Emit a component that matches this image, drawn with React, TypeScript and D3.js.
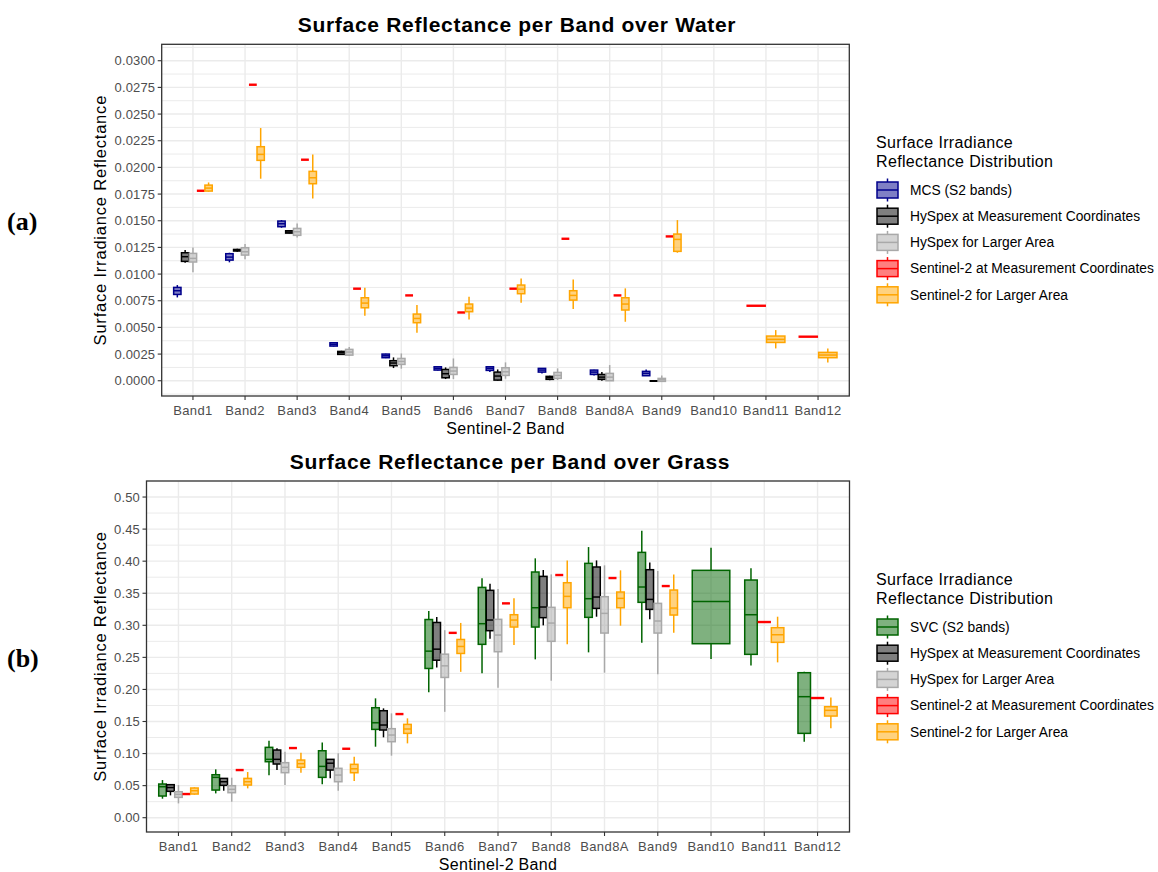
import React from "react";
import * as d3 from "d3";

// Sentinel-2 band order on the x axis
const BANDS = [
  "Band1", "Band2", "Band3", "Band4", "Band5", "Band6", "Band7",
  "Band8", "Band8A", "Band9", "Band10", "Band11", "Band12",
];

// Box statistics: [lower whisker, Q1, median, Q3, upper whisker]
type Stat = [number, number, number, number, number];
type Cell = Stat | number | null;

// ---------- Water ----------
const waterMcs: Cell[] = [
  [0.00781, 0.00809, 0.00844, 0.00875, 0.00897],
  [0.0111, 0.01131, 0.01159, 0.01191, 0.012],
  [0.01434, 0.01444, 0.01472, 0.01497, 0.01506],
  [0.0032, 0.00325, 0.00341, 0.00356, 0.0036],
  [0.00212, 0.00216, 0.00234, 0.0025, 0.00253],
  [0.00097, 0.001, 0.00116, 0.00131, 0.00133],
  [0.00081, 0.00097, 0.00116, 0.00131, 0.00133],
  [0.00069, 0.00081, 0.001, 0.00116, 0.00118],
  [0.0005, 0.00059, 0.00081, 0.001, 0.00102],
  [0.00047, 0.00047, 0.00069, 0.00088, 0.00106],
  null, null, null,
];
const waterHyMc: Cell[] = [
  [0.01106, 0.01119, 0.01163, 0.012, 0.01225],
  [0.0121, 0.01216, 0.01225, 0.01231, 0.01238],
  [0.01381, 0.01384, 0.01394, 0.01406, 0.0141],
  [0.00244, 0.00247, 0.00263, 0.00275, 0.00281],
  [0.00119, 0.00141, 0.00166, 0.00188, 0.00219],
  [0.00016, 0.00028, 0.00066, 0.00106, 0.00125],
  [0.0, 0.00006, 0.00044, 0.00081, 0.00106],
  [0.00005, 0.00013, 0.00028, 0.00041, 0.00047],
  [0.0, 0.00013, 0.00034, 0.00059, 0.00081],
  [-0.00005, -0.00004, -0.00002, 0.0, 0.0],
  null, null, null,
];
const waterHyLarge: Cell[] = [
  [0.01016, 0.01113, 0.01147, 0.01194, 0.0125],
  [0.01138, 0.01178, 0.01209, 0.01247, 0.01281],
  [0.01344, 0.01363, 0.01397, 0.01428, 0.01475],
  [0.00231, 0.0024, 0.00269, 0.00294, 0.00316],
  [0.00113, 0.00153, 0.00181, 0.00209, 0.00256],
  [0.00016, 0.00059, 0.00091, 0.00125, 0.00209],
  [0.00019, 0.0005, 0.00084, 0.00122, 0.00172],
  [0.00006, 0.00022, 0.0005, 0.00078, 0.00116],
  [-0.00003, 0.0, 0.00034, 0.00069, 0.00147],
  [-0.00006, -0.00006, 0.00009, 0.00022, 0.0005],
  null, null, null,
];
const waterS2Mc: Cell[] = [
  0.01781, 0.02775, 0.02072, 0.00863, 0.008, 0.0064, 0.00863,
  0.01331, 0.008, 0.01353, null, 0.00703, 0.00413,
];
const waterS2Large: Cell[] = [
  [0.01772, 0.01778, 0.01806, 0.01834, 0.01859],
  [0.01894, 0.02066, 0.02122, 0.02194, 0.02369],
  [0.01709, 0.01847, 0.01903, 0.01963, 0.02122],
  [0.00609, 0.00684, 0.00728, 0.00778, 0.00872],
  [0.0045, 0.00544, 0.00584, 0.00625, 0.00709],
  [0.00575, 0.00647, 0.00681, 0.00719, 0.00788],
  [0.00731, 0.00816, 0.00859, 0.00897, 0.00959],
  [0.00672, 0.00756, 0.008, 0.00844, 0.0095],
  [0.00553, 0.00663, 0.00719, 0.00778, 0.00866],
  [0.012, 0.01213, 0.01325, 0.01375, 0.01506],
  null,
  [0.00303, 0.00359, 0.00388, 0.00419, 0.00475],
  [0.00172, 0.00216, 0.00241, 0.00266, 0.00303],
];

// ---------- Grass ----------
const grassSvc: Cell[] = [
  [0.0296, 0.0338, 0.0483, 0.0525, 0.0587],
  [0.0379, 0.0431, 0.0629, 0.067, 0.0754],
  [0.066, 0.0873, 0.091, 0.1097, 0.12],
  [0.052, 0.0629, 0.08, 0.1044, 0.1174],
  [0.1107, 0.1377, 0.148, 0.1715, 0.1861],
  [0.1958, 0.2327, 0.2597, 0.309, 0.3224],
  [0.2251, 0.2703, 0.3025, 0.3591, 0.3732],
  [0.2469, 0.2973, 0.3274, 0.3831, 0.4044],
  [0.2578, 0.3124, 0.3415, 0.3966, 0.422],
  [0.2729, 0.3358, 0.3597, 0.4137, 0.4475],
  [0.2474, 0.2713, 0.3373, 0.3857, 0.421],
  [0.2375, 0.2547, 0.3165, 0.3706, 0.3888],
  [0.1185, 0.1315, 0.1887, 0.2261, 0.2277],
];
const grassHyMc: Cell[] = [
  [0.0348, 0.0411, 0.047, 0.0515, 0.0515],
  [0.0421, 0.0504, 0.0561, 0.0613, 0.0613],
  [0.0743, 0.0837, 0.091, 0.1055, 0.1081],
  [0.0614, 0.0743, 0.085, 0.091, 0.091],
  [0.1253, 0.1367, 0.1445, 0.1668, 0.1705],
  [0.2343, 0.2456, 0.2628, 0.3044, 0.3131],
  [0.2791, 0.2916, 0.3082, 0.3545, 0.3649],
  [0.2999, 0.3119, 0.3285, 0.3763, 0.3862],
  [0.3134, 0.3264, 0.3441, 0.3909, 0.4012],
  [0.3093, 0.3248, 0.3404, 0.3867, 0.3981],
  null, null, null,
];
const grassHyLarge: Cell[] = [
  [0.0223, 0.0317, 0.0364, 0.0405, 0.0509],
  [0.0249, 0.039, 0.0442, 0.0499, 0.0624],
  [0.0509, 0.0702, 0.0785, 0.0858, 0.1029],
  [0.042, 0.0561, 0.0665, 0.077, 0.1003],
  [0.0967, 0.1185, 0.1289, 0.1388, 0.1627],
  [0.1651, 0.2187, 0.2368, 0.255, 0.2924],
  [0.2027, 0.2588, 0.2848, 0.3093, 0.3565],
  [0.2136, 0.275, 0.3035, 0.328, 0.3794],
  [0.2261, 0.2879, 0.3186, 0.3446, 0.3935],
  [0.2235, 0.2879, 0.3067, 0.3342, 0.3846],
  null, null, null,
];
const grassS2Mc: Cell[] = [
  0.0369, 0.0743, 0.1086, 0.1075, 0.1616, 0.2882, 0.3342,
  0.3784, 0.3737, 0.3612, null, 0.3051, 0.1866,
];
const grassS2Large: Cell[] = [
  [0.0359, 0.0369, 0.0421, 0.0463, 0.0473],
  [0.0457, 0.0509, 0.0561, 0.0613, 0.0712],
  [0.0702, 0.0785, 0.0842, 0.0899, 0.1014],
  [0.0572, 0.0701, 0.0763, 0.0832, 0.095],
  [0.1159, 0.1315, 0.1383, 0.1455, 0.1549],
  [0.2274, 0.2561, 0.267, 0.2779, 0.3037],
  [0.2692, 0.2973, 0.3082, 0.3165, 0.342],
  [0.2703, 0.3274, 0.3451, 0.3664, 0.4012],
  [0.2994, 0.3274, 0.342, 0.3519, 0.3857],
  [0.2885, 0.316, 0.3269, 0.355, 0.3794],
  null,
  [0.2422, 0.2734, 0.2853, 0.2963, 0.3134],
  [0.1393, 0.1585, 0.1674, 0.1731, 0.1876],
];

const waterTicks = d3.range(0, 0.03 + 1e-9, 0.0025);
const grassTicks = d3.range(0, 0.5 + 1e-9, 0.05);

interface Series {
  name: string;
  color: string;
  values: Cell[];
}

const COLORS = {
  mcs: "#00008B",
  svc: "#006400",
  hyMc: "#000000",
  hyLarge: "#A9A9A9",
  s2Mc: "#FF0000",
  s2Large: "#FFA500",
};

const waterSeries: Series[] = [
  { name: "MCS (S2 bands)", color: COLORS.mcs, values: waterMcs },
  { name: "HySpex at Measurement Coordinates", color: COLORS.hyMc, values: waterHyMc },
  { name: "HySpex for Larger Area", color: COLORS.hyLarge, values: waterHyLarge },
  { name: "Sentinel-2 at Measurement Coordinates", color: COLORS.s2Mc, values: waterS2Mc },
  { name: "Sentinel-2 for Larger Area", color: COLORS.s2Large, values: waterS2Large },
];
const grassSeries: Series[] = [
  { name: "SVC (S2 bands)", color: COLORS.svc, values: grassSvc },
  { name: "HySpex at Measurement Coordinates", color: COLORS.hyMc, values: grassHyMc },
  { name: "HySpex for Larger Area", color: COLORS.hyLarge, values: grassHyLarge },
  { name: "Sentinel-2 at Measurement Coordinates", color: COLORS.s2Mc, values: grassS2Mc },
  { name: "Sentinel-2 for Larger Area", color: COLORS.s2Large, values: grassS2Large },
];

const FONT = "'Liberation Sans', Arial, sans-serif";
const GRID = "#EBEBEB";
const AXIS = "#333333";
const TICK_TEXT = "#4D4D4D";

interface PanelProps {
  title: string;
  titleX: number;
  tag: string;
  box: { left: number; right: number; top: number; bottom: number };
  domain: [number, number];
  ticks: number[];
  format: (v: number) => string;
  series: Series[];
  legendY: number;
}

function Panel({ title, titleX, tag, box, domain, ticks, format, series, legendY }: PanelProps) {
  const y = d3.scaleLinear().domain(domain).range([box.bottom, box.top]);
  const x = d3
    .scalePoint<string>()
    .domain(BANDS)
    .range([box.left, box.right])
    .padding(0.6);
  const step = x.step();
  const dodge = step * 0.75;

  const tickStep = ticks[1] - ticks[0];
  const minor = d3
    .range(ticks[0] - tickStep / 2, ticks[ticks.length - 1] + tickStep, tickStep)
    .filter((v) => y(v) >= box.top && y(v) <= box.bottom);

  const marks: React.ReactNode[] = [];
  BANDS.forEach((band, bi) => {
    const present = series.filter((s) => s.values[bi] !== null);
    const n = present.length;
    if (!n) return;
    const slot = dodge / n;
    const cx0 = (x(band) as number) - dodge / 2;
    present.forEach((s, k) => {
      const v = s.values[bi] as Stat | number;
      const cx = cx0 + slot * (k + 0.5);
      const w = slot * 0.94;
      const key = `${band}-${s.name}`;
      if (typeof v === "number") {
        marks.push(
          <line key={key} x1={cx - slot / 2} x2={cx + slot / 2} y1={y(v)} y2={y(v)}
            stroke={s.color} strokeWidth={2.4} />
        );
        return;
      }
      const [lo, q1, med, q3, hi] = v;
      marks.push(
        <g key={key} stroke={s.color} strokeWidth={1.5}>
          <line x1={cx} x2={cx} y1={y(hi)} y2={y(q3)} />
          <line x1={cx} x2={cx} y1={y(q1)} y2={y(lo)} />
          <rect x={cx - w / 2} width={w} y={y(q3)} height={Math.max(0.5, y(q1) - y(q3))}
            fill={s.color} fillOpacity={0.5} />
          <line x1={cx - w / 2} x2={cx + w / 2} y1={y(med)} y2={y(med)} />
        </g>
      );
    });
  });

  const midY = (box.top + box.bottom) / 2;
  const midX = (box.left + box.right) / 2;

  return (
    <g>
      <text x={7} y={midY + 10} fontFamily="'Liberation Serif', 'DejaVu Serif', serif"
        fontWeight="bold" fontSize={26} fill="#000">{tag}</text>
      <text x={titleX} y={box.top - 12} textAnchor="middle" fontFamily={FONT}
        fontWeight="bold" fontSize={21} letterSpacing={0.7} fill="#000">{title}</text>

      {/* grid */}
      {minor.map((v) => (
        <line key={`mn${v}`} x1={box.left} x2={box.right} y1={y(v)} y2={y(v)}
          stroke={GRID} strokeWidth={1} />
      ))}
      {ticks.map((v) => (
        <line key={`mj${v}`} x1={box.left} x2={box.right} y1={y(v)} y2={y(v)}
          stroke={GRID} strokeWidth={1.4} />
      ))}
      {BANDS.map((b) => (
        <line key={`gx${b}`} x1={x(b)} x2={x(b)} y1={box.top} y2={box.bottom}
          stroke={GRID} strokeWidth={1.4} />
      ))}

      {marks}

      <rect x={box.left} y={box.top} width={box.right - box.left} height={box.bottom - box.top}
        fill="none" stroke={AXIS} strokeWidth={1.3} />

      {/* y axis */}
      {ticks.map((v) => (
        <g key={`yt${v}`}>
          <line x1={box.left - 4} x2={box.left} y1={y(v)} y2={y(v)} stroke={AXIS} strokeWidth={1.1} />
          <text x={box.left - 6.5} y={y(v)} dy="0.35em" textAnchor="end" fontFamily={FONT}
            fontSize={13} letterSpacing={0.15} fill={TICK_TEXT}>{format(v)}</text>
        </g>
      ))}
      <text transform={`translate(${100},${midY}) rotate(-90)`} textAnchor="middle"
        dy="0.35em" fontFamily={FONT} fontSize={16.5} letterSpacing={0.8} fill="#000">
        Surface Irradiance Reflectance
      </text>

      {/* x axis */}
      {BANDS.map((b) => (
        <g key={`xt${b}`}>
          <line x1={x(b)} x2={x(b)} y1={box.bottom} y2={box.bottom + 4} stroke={AXIS} strokeWidth={1.1} />
          <text x={x(b)} y={box.bottom + 18.5} textAnchor="middle" fontFamily={FONT}
            fontSize={13} letterSpacing={0.4} fill={TICK_TEXT}>{b}</text>
        </g>
      ))}
      <text x={midX} y={box.bottom + 37.5} textAnchor="middle" fontFamily={FONT}
        fontSize={16} letterSpacing={0.3} fill="#000">Sentinel-2 Band</text>

      {/* legend */}
      <g fontFamily={FONT}>
        <text x={876} y={legendY} fontSize={16} letterSpacing={0.35} fill="#000">Surface Irradiance</text>
        <text x={876} y={legendY + 19} fontSize={16} letterSpacing={0.35} fill="#000">Reflectance Distribution</text>
        {series.map((s, i) => {
          const cy = legendY + 42 + i * 26.2;
          return (
            <g key={`lg${s.name}`} stroke={s.color} strokeWidth={1.5}>
              <line x1={887.5} x2={887.5} y1={cy - 11.5} y2={cy - 8} />
              <line x1={887.5} x2={887.5} y1={cy + 8} y2={cy + 11.5} />
              <rect x={877} y={cy - 8} width={21} height={16} fill={s.color} fillOpacity={0.5} />
              <line x1={877} x2={898} y1={cy} y2={cy} />
              <text x={910} y={cy} dy="0.35em" fontSize={13.8} fill="#000" stroke="none">{s.name}</text>
            </g>
          );
        })}
      </g>
    </g>
  );
}

export default function App() {
  return (
    <svg width={1158} height={872}
      style={{ display: "block", position: "absolute", left: 0, top: 0, background: "#fff" }}>
      <Panel
        title="Surface Reflectance per Band over Water"
        titleX={517}
        tag="(a)"
        box={{ left: 161.7, right: 849.3, top: 44.3, bottom: 396 }}
        domain={[-0.00143, 0.03154]}
        ticks={waterTicks}
        format={(v) => v.toFixed(4)}
        series={waterSeries}
        legendY={148}
      />
      <Panel
        title="Surface Reflectance per Band over Grass"
        titleX={510}
        tag="(b)"
        box={{ left: 146.5, right: 849.5, top: 481, bottom: 832 }}
        domain={[-0.0223, 0.525]}
        ticks={grassTicks}
        format={(v) => v.toFixed(2)}
        series={grassSeries}
        legendY={585}
      />
    </svg>
  );
}
